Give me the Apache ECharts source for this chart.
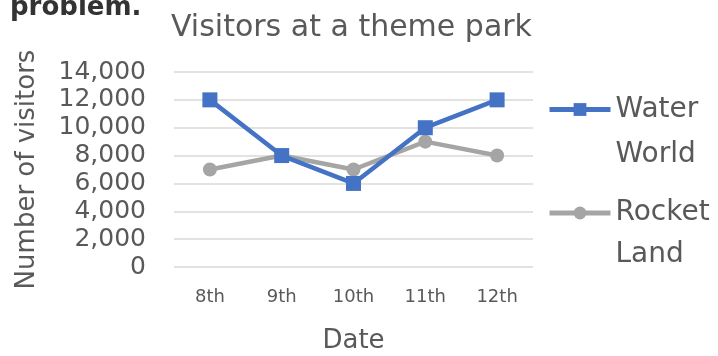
<!DOCTYPE html>
<html>
<head>
<meta charset="utf-8">
<script src="https://cdn.jsdelivr.net/npm/echarts@6/dist/echarts.min.js"></script>
<style>
  html, body { margin: 0; padding: 0; background: #fff; }
  #chart { width: 718px; height: 356px; }
</style>
</head>
<body>
<div id="chart"></div>
<script>
// Daily visitor counts for two park areas
const dates = ['8th', '9th', '10th', '11th', '12th'];
const waterWorld = [12000, 8000, 6000, 10000, 12000];
const rocketLand = [7000, 8000, 7000, 9000, 8000];
const yTicks = [0, 2000, 4000, 6000, 8000, 10000, 12000, 14000];

const FONT = '"DejaVu Sans", "Open Sans", sans-serif';
const TEXT = '#595959';
const BLUE = '#4472C4';
const GREY = '#A5A5A5';

const chart = echarts.init(document.getElementById('chart'), null, { renderer: 'canvas' });

function legendFor(name, top, lh) {
  return {
    data: [name],
    orient: 'vertical',
    left: 547,
    top: top,
    padding: 0,
    itemWidth: 61,
    itemHeight: 16,
    lineStyle: { width: 5 },
    formatter: n => ' \n' + n.replace(' ', '\n'),
    textStyle: { fontFamily: FONT, fontSize: 28, color: TEXT, lineHeight: lh },
    selectedMode: false
  };
}

chart.setOption({
  animation: false,
  backgroundColor: '#fff',
  title: {
    text: 'Visitors at a theme park',
    left: 171,
    top: 13,
    padding: 0,
    textStyle: { fontFamily: FONT, fontSize: 30, fontWeight: 'normal', color: TEXT }
  },
  graphic: [{
    type: 'text',
    left: 10,
    top: -5,
    style: { text: 'problem.', fontFamily: FONT, fontSize: 26, fontWeight: 'bold', fill: '#333' }
  }],
  legend: [legendFor('Water World', 108 - 66, 45), legendFor('Rocket Land', 213 - 63, 42)],
  grid: {
    left: 174, right: 718 - 533, top: 72, bottom: 356 - 267,
    outerBoundsMode: 'none', containLabel: false
  },
  xAxis: {
    type: 'category',
    data: dates,
    boundaryGap: true,
    name: 'Date',
    nameLocation: 'middle',
    nameGap: 61,
    nameTextStyle: { fontFamily: FONT, fontSize: 26, color: TEXT },
    axisLine: { show: false },
    axisTick: { show: false },
    axisLabel: { fontFamily: FONT, fontSize: 18, color: TEXT, margin: 21 }
  },
  yAxis: {
    type: 'value',
    min: yTicks[0],
    max: yTicks[yTicks.length - 1],
    interval: yTicks[1] - yTicks[0],
    name: 'Number of visitors',
    nameLocation: 'middle',
    nameGap: 134,
    nameRotate: 90,
    nameTextStyle: { fontFamily: FONT, fontSize: 26, color: TEXT },
    axisLine: { show: false },
    axisTick: { show: false },
    axisLabel: {
      fontFamily: FONT, fontSize: 25, color: TEXT, margin: 28,
      formatter: v => v.toLocaleString('en-US')
    },
    splitLine: { lineStyle: { color: '#d9d9d9', width: 1.5 } }
  },
  series: [
    {
      name: 'Water World',
      type: 'line',
      data: waterWorld,
      symbol: 'rect',
      symbolSize: 15,
      z: 3,
      lineStyle: { color: BLUE, width: 4.5 },
      itemStyle: { color: BLUE }
    },
    {
      name: 'Rocket Land',
      type: 'line',
      data: rocketLand,
      symbol: 'circle',
      symbolSize: 14,
      z: 2,
      lineStyle: { color: GREY, width: 4.5 },
      itemStyle: { color: GREY }
    }
  ]
});
</script>
</body>
</html>
